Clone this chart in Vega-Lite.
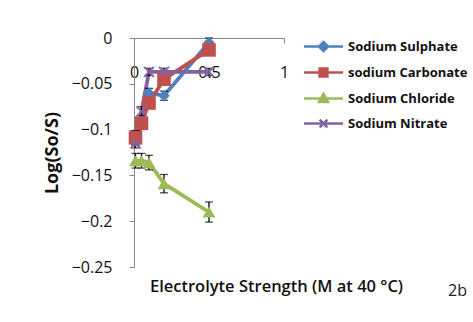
{
  "$schema": "https://vega.github.io/schema/vega-lite/v6.json",
  "autosize": {"type": "none"},
  "width": 150,
  "height": 229,
  "padding": {"left": 134, "top": 38, "right": 189, "bottom": 55},
  "background": "white",
  "config": {
    "view": {"stroke": null},
    "font": "Open Sans",
    "axis": {"domainColor": "#868686", "tickColor": "#868686", "labelColor": "#111", "titleColor": "#111", "grid": false, "domainWidth": 1, "tickWidth": 1}
  },
  "title": {"text": "2b", "orient": "bottom", "anchor": "end", "frame": "group", "fontSize": 16, "fontWeight": "normal", "font": "Open Sans", "color": "#222", "dx": 183, "offset": -12},
  "data": {
    "values": [
      {"series": "Sodium Sulphate", "x": 0.01, "y": -0.112, "err": 0.005},
      {"series": "Sodium Sulphate", "x": 0.05, "y": -0.095, "err": 0.005},
      {"series": "Sodium Sulphate", "x": 0.1, "y": -0.06, "err": 0.005},
      {"series": "Sodium Sulphate", "x": 0.2, "y": -0.063, "err": 0.005},
      {"series": "Sodium Sulphate", "x": 0.5, "y": -0.005, "err": 0.005},
      {"series": "sodium Carbonate", "x": 0.01, "y": -0.109, "err": 0.008},
      {"series": "sodium Carbonate", "x": 0.05, "y": -0.093, "err": 0.005},
      {"series": "sodium Carbonate", "x": 0.1, "y": -0.071, "err": 0.005},
      {"series": "sodium Carbonate", "x": 0.2, "y": -0.045, "err": 0.005},
      {"series": "sodium Carbonate", "x": 0.5, "y": -0.013, "err": 0.005},
      {"series": "Sodium Chloride", "x": 0.01, "y": -0.134, "err": 0.008},
      {"series": "Sodium Chloride", "x": 0.05, "y": -0.134, "err": 0.008},
      {"series": "Sodium Chloride", "x": 0.1, "y": -0.136, "err": 0.008},
      {"series": "Sodium Chloride", "x": 0.2, "y": -0.159, "err": 0.01},
      {"series": "Sodium Chloride", "x": 0.5, "y": -0.19, "err": 0.011},
      {"series": "Sodium Nitrate", "x": 0.01, "y": -0.115, "err": 0.005},
      {"series": "Sodium Nitrate", "x": 0.05, "y": -0.08, "err": 0.005},
      {"series": "Sodium Nitrate", "x": 0.1, "y": -0.037, "err": 0.004},
      {"series": "Sodium Nitrate", "x": 0.2, "y": -0.037, "err": 0.004},
      {"series": "Sodium Nitrate", "x": 0.5, "y": -0.037, "err": 0.004}
    ]
  },
  "encoding": {
    "x": {
      "field": "x", "type": "quantitative",
      "scale": {"domain": [0, 1], "nice": false, "zero": false},
      "axis": {
        "orient": "bottom", "offset": -229, "values": [0, 0.5, 1], "format": "~g",
        "tickSize": 5, "labelPadding": 21, "labelFontSize": 16, "labelFlush": false, "labelOverlap": false,
        "title": "Electrolyte Strength (M at 40 °C)", "titleFontSize": 16.5, "titleFontWeight": 600,
        "titleX": 142, "titleY": 248, "titleBaseline": "middle", "titleAlign": "center"
      }
    },
    "y": {
      "field": "y", "type": "quantitative",
      "scale": {"domain": [-0.25, 0], "nice": false, "zero": false},
      "axis": {
        "values": [-0.25, -0.2, -0.15, -0.1, -0.05, 0], "format": "~g",
        "tickSize": 5, "labelPadding": 17, "labelFontSize": 16,
        "title": "Log(So/S)", "titleFontSize": 18, "titleFontWeight": "bold",
        "titleX": -82, "titleY": 114.5, "titleAngle": 270, "titleBaseline": "middle", "titleAlign": "center"
      }
    }
  },
  "layer": [
    {
      "mark": {"type": "line", "strokeWidth": 3.8},
      "encoding": {
        "color": {
          "field": "series", "type": "nominal",
          "scale": {"domain": ["Sodium Sulphate", "sodium Carbonate", "Sodium Chloride", "Sodium Nitrate"], "range": ["#4F81BD", "#C0504D", "#9BBB59", "#8064A2"]},
          "legend": {
            "orient": "none", "legendX": 181.5, "legendY": 0.5, "title": null, "padding": 0,
            "symbolSize": 169, "symbolStrokeWidth": 2.5, "labelOffset": 16.5, "rowPadding": 7,
            "labelFont": "Open Sans", "labelFontSize": 13, "labelFontWeight": "bold", "labelColor": "#111",
            "encode": {
              "symbols": {
                "update": {
                  "shape": {"signal": "datum.value === 'Sodium Sulphate' ? 'M-3,0H3M0,-0.7L0.7,0L0,0.7L-0.7,0Z' : datum.value === 'sodium Carbonate' ? 'M-3,0H3M-0.6,-0.6H0.6V0.6H-0.6Z' : datum.value === 'Sodium Chloride' ? 'M-3,0H3M0,-0.7L0.7,0.55H-0.7Z' : 'M-3,0H3M-0.6,-0.6L0.6,0.6M-0.6,0.6L0.6,-0.6'"},
                  "fill": {"signal": "scale('color', datum.value)"},
                  "stroke": {"signal": "scale('color', datum.value)"},
                  "opacity": {"value": 1}
                }
              }
            }
          }
        }
      }
    },
    {
      "mark": {"type": "errorbar", "ticks": {"size": 8, "thickness": 1.3, "color": "black"}, "rule": {"color": "black", "strokeWidth": 1.3}},
      "encoding": {
        "y": {"field": "y", "type": "quantitative"},
        "yError": {"field": "err"}
      }
    },
    {
      "transform": [{"filter": "datum.series === 'Sodium Sulphate'"}],
      "mark": {"type": "point", "shape": "diamond", "filled": true, "size": 130, "opacity": 1, "color": "#4F81BD"},
      "encoding": {}
    },
    {
      "transform": [{"filter": "datum.series === 'sodium Carbonate'"}],
      "mark": {"type": "point", "shape": "square", "filled": true, "size": 185, "opacity": 1, "color": "#C0504D"},
      "encoding": {}
    },
    {
      "transform": [{"filter": "datum.series === 'Sodium Chloride'"}],
      "mark": {"type": "point", "shape": "triangle-up", "filled": true, "size": 165, "opacity": 1, "color": "#9BBB59"},
      "encoding": {}
    },
    {
      "transform": [{"filter": "datum.series === 'Sodium Nitrate'"}],
      "mark": {"type": "point", "shape": "M-1,-1L1,1M-1,1L1,-1", "filled": false, "size": 100, "strokeWidth": 1.8, "opacity": 1, "color": "#8064A2"},
      "encoding": {}
    }
  ]
}
